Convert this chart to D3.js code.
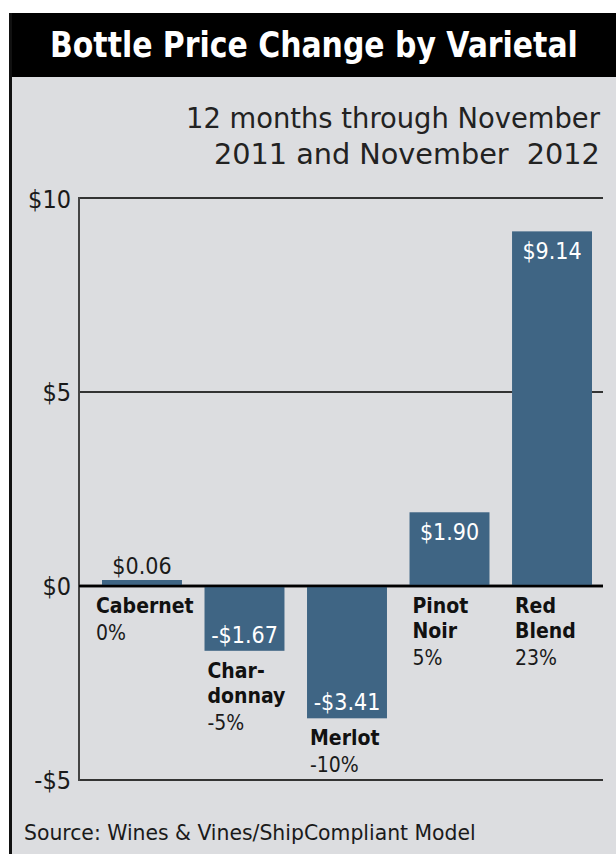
<!DOCTYPE html>
<html>
<head>
<meta charset="utf-8">
<script src="https://cdn.jsdelivr.net/npm/d3@7"></script>
<style>
  html, body { margin: 0; padding: 0; background: #ffffff; }
  svg { display: block; }
  text { white-space: pre; }
</style>
</head>
<body>
<script>
// ---- data ----
const categories = ["Cabernet", "Chardonnay", "Merlot", "Pinot Noir", "Red Blend"];
const labelLines = [["Cabernet"], ["Char-", "donnay"], ["Merlot"], ["Pinot", "Noir"], ["Red", "Blend"]];
const values = [0.06, -1.67, -3.41, 1.90, 9.14];
const valueLabels = ["$0.06", "-$1.67", "-$3.41", "$1.90", "$9.14"];
const pctLabels = ["0%", "-5%", "-10%", "5%", "23%"];
const yTicks = [-5, 0, 5, 10];
const yTickLabels = ["-$5", "$0", "$5", "$10"];
const title = "Bottle Price Change by Varietal";
const subtitle = ["12 months through November", "2011 and November  2012"];
const source = "Source: Wines & Vines/ShipCompliant Model";

// ---- layout ----
const W = 616, H = 854;
const cond = "'Liberation Sans Narrow', 'DejaVu Sans Condensed', 'DejaVu Sans', sans-serif";
const barColor = "#3f6584";
const bg = "#dcdde0";

const svg = d3.select("body").append("svg").attr("width", W).attr("height", H);

// frame
svg.append("rect").attr("x", 9).attr("y", 13).attr("width", W - 9).attr("height", H - 13).attr("fill", bg);
svg.append("rect").attr("x", 9).attr("y", 13).attr("width", W - 9).attr("height", 64).attr("fill", "#000");
svg.append("rect").attr("x", 9).attr("y", 13).attr("width", 3).attr("height", H - 13).attr("fill", "#111");

// place a text so that it spans a target width, by horizontal scaling
// anchor: "start" | "middle" | "end"; ax is the anchor x
function fitText(str, ax, ay, width, anchor, attrs) {
  const t = svg.append("text").attr("x", 0).attr("y", 0).text(str);
  Object.entries(attrs).forEach(([k, v]) => t.attr(k, v));
  const len = t.node().getComputedTextLength();
  const s = Math.min(1.15, width / len);
  const w = len * s;
  const x0 = anchor === "middle" ? ax - w / 2 : anchor === "end" ? ax - w : ax;
  t.attr("transform", `translate(${x0},${ay}) scale(${s},1)`);
  return t;
}

// title
fitText(title, 314, 57, 528, "middle",
  { fill: "#fff", "font-family": cond, "font-weight": "bold", "font-size": 36 });

// subtitle
const subW = [414, 386];
subtitle.forEach((s, i) => {
  fitText(s, 600, 128 + i * 36, subW[i], "end",
    { fill: "#222", "font-family": cond, "font-weight": 300, "font-size": 29 });
});

// scales
const y = d3.scaleLinear().domain([-5, 10]).range([780, 198]);
const x = d3.scaleBand().domain(categories).range([102, 592]).paddingInner(0.22).paddingOuter(0);
const plotLeft = 79, plotRight = 603;

// gridlines
const g = svg.append("g");
g.selectAll("line.grid").data(yTicks).join("line")
  .attr("x1", plotLeft).attr("x2", plotRight)
  .attr("y1", d => y(d)).attr("y2", d => y(d))
  .attr("stroke", d => d === 0 ? "#000" : "#333").attr("stroke-width", d => d === 0 ? 2.5 : 2);

// left axis line
g.append("line").attr("x1", plotLeft).attr("x2", plotLeft).attr("y1", y(10) - 1).attr("y2", y(-5) + 1)
  .attr("stroke", "#444").attr("stroke-width", 2);

// y tick labels
g.selectAll("text.ytick").data(yTicks).join("text")
  .attr("x", 71).attr("y", d => y(d) + 9 + (d === 10 ? 1 : 0))
  .attr("text-anchor", "end").attr("fill", "#1a1a1a")
  .attr("font-family", cond).attr("font-size", 25)
  .text((d, i) => yTickLabels[i]);

// bars
const minH = 6;
const barTop = v => v >= 0 ? Math.min(y(v), y(0) - minH) : y(0);
const barBottom = v => v >= 0 ? y(0) : y(v);

svg.append("g").selectAll("rect").data(values).join("rect")
  .attr("x", (d, i) => x(categories[i]))
  .attr("width", x.bandwidth())
  .attr("y", d => barTop(d))
  .attr("height", d => barBottom(d) - barTop(d))
  .attr("fill", barColor);

// redraw zero line over bars
svg.append("line").attr("x1", plotLeft).attr("x2", plotRight).attr("y1", y(0)).attr("y2", y(0))
  .attr("stroke", "#000").attr("stroke-width", 2.5);

// value labels
const bigBarMin = 1.0;
values.forEach((v, i) => {
  const cx = x(categories[i]) + x.bandwidth() / 2;
  let ty, fill;
  if (Math.abs(v) < bigBarMin) { ty = barTop(v) - 6; fill = "#1a1a1a"; }
  else if (v > 0) { ty = barTop(v) + 28; fill = "#fff"; }
  else { ty = barBottom(v) - 8; fill = "#fff"; }
  svg.append("text").attr("x", cx).attr("y", ty).attr("text-anchor", "middle")
    .attr("fill", fill).attr("font-family", cond).attr("font-size", 23)
    .text(valueLabels[i]);
});

// category labels
values.forEach((v, i) => {
  const lx = x(categories[i]) + (i === 0 ? -6 : 3);
  const startY = (v < 0 ? barBottom(v) : y(0)) + 27;
  const lines = labelLines[i];
  lines.forEach((l, j) => {
    svg.append("text").attr("x", lx).attr("y", startY + j * 25)
      .attr("fill", "#111").attr("font-family", cond).attr("font-weight", "bold")
      .attr("font-size", 21).text(l);
  });
  svg.append("text").attr("x", lx).attr("y", startY + lines.length * 25 + 2)
    .attr("fill", "#1a1a1a").attr("font-family", cond).attr("font-size", 21)
    .text(pctLabels[i]);
});

// source
fitText(source, 24, 840, 452, "start",
  { fill: "#1a1a1a", "font-family": cond, "font-size": 21 });
</script>
</body>
</html>
